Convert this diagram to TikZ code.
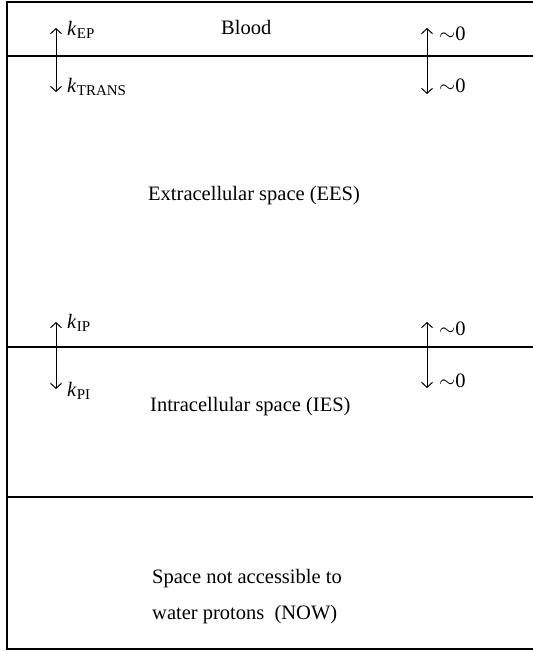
\documentclass[tikz,border=0pt]{standalone}
\usepackage{fontspec}
\setmainfont{Liberation Serif}
\usetikzlibrary{arrows.meta}
\newcommand{\ksb}[1]{\textit{k}\kern0.3pt\raisebox{-0.4ex}{\fontsize{15}{15}\selectfont #1}}
\begin{document}
\begin{tikzpicture}[x=1pt,y=-1pt,
  font=\fontsize{20.5}{24}\selectfont,
  wall/.style={line width=1.3pt},
  sep/.style={line width=2pt},
  flux/.style={line width=1pt,{Straight Barb[length=5pt,width=11pt]}-{Straight Barb[length=5pt,width=11pt]}},
  lbl/.style={anchor=base west,inner sep=0pt}]
\useasboundingbox (0,0) rectangle (533,651);
% frame
\coordinate (tl) at (7,2);
\coordinate (tr) at (533,2);
\coordinate (bl) at (7,649);
\coordinate (br) at (533,649);
\draw[wall] (tr) -- (tl) -- (bl) -- (br);
% separators
\coordinate (s1l) at (7,56);   \coordinate (s1r) at (533,56);
\coordinate (s2l) at (7,347);  \coordinate (s2r) at (533,347);
\coordinate (s3l) at (7,497);  \coordinate (s3r) at (533,497);
\draw[sep] (s1l) -- (s1r);
\draw[sep] (s2l) -- (s2r);
\draw[sep] (s3l) -- (s3r);
% arrows
\coordinate (a1t) at (56,28);  \coordinate (a1b) at (56,92);
\coordinate (a2t) at (427,28); \coordinate (a2b) at (427,94);
\coordinate (a3t) at (56,322); \coordinate (a3b) at (56,389);
\coordinate (a4t) at (427,322);\coordinate (a4b) at (427,388);
\draw[flux] (a1t) -- (a1b);
\draw[flux] (a2t) -- (a2b);
\draw[flux] (a3t) -- (a3b);
\draw[flux] (a4t) -- (a4b);
% labels
\node[lbl] (kep) at (67,35) {\ksb{EP}};
\node[lbl] (ktr) at (67,92) {\ksb{TRANS}};
\node[lbl] (kip) at (67,328) {\ksb{IP}};
\node[lbl] (kpi) at (67,396) {\ksb{PI}};
\node[lbl] (z1) at (439,40) {$\sim$0};
\node[lbl] (z2) at (439,92) {$\sim$0};
\node[lbl] (z3) at (439,335) {$\sim$0};
\node[lbl] (z4) at (439,387) {$\sim$0};
\node[lbl] (blood) at (221,34) {Blood};
\node[lbl] (ees) at (148,200) {Extracellular space (EES)};
\node[lbl] (ies) at (150,411) {Intracellular space (IES)};
\node[lbl] (now1) at (152,583) {Space not accessible to};
\node[lbl] (now2) at (152,619) {water protons\ \ (NOW)};
\end{tikzpicture}
\end{document}
